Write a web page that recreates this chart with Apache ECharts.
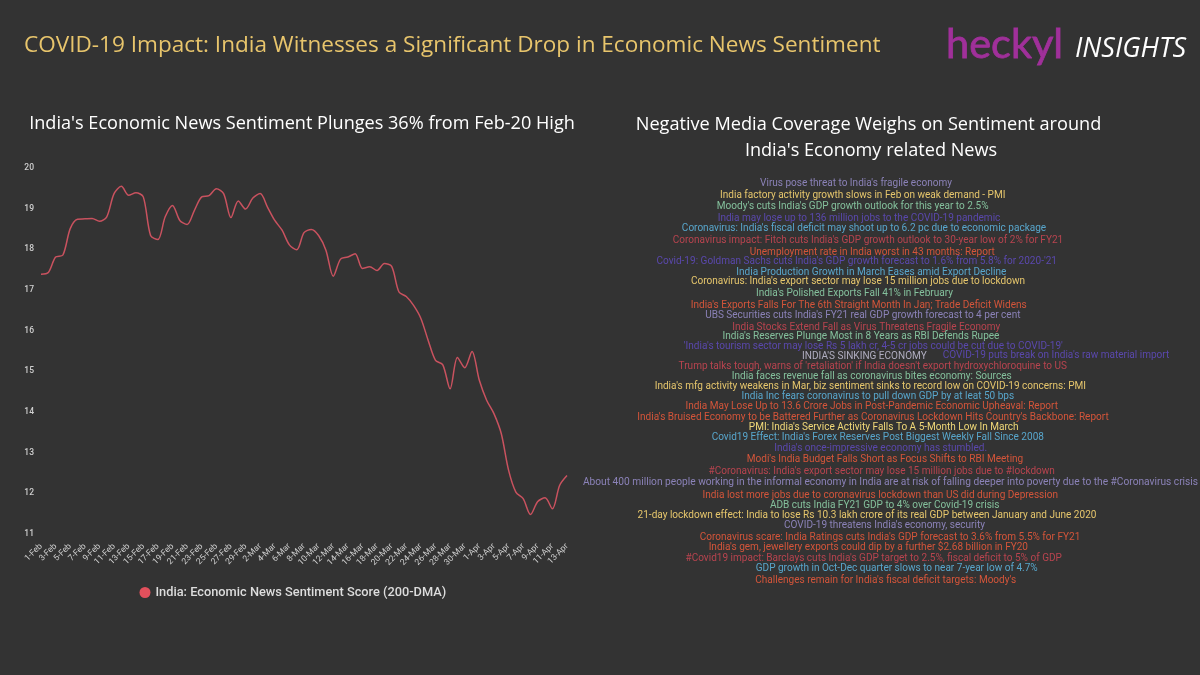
<!DOCTYPE html>
<html><head><meta charset="utf-8">
<style>html,body{margin:0;padding:0;background:#333333}#c{width:1200px;height:675px}</style>
<script src="https://cdn.jsdelivr.net/npm/echarts@6/dist/echarts.min.js"></script>
</head><body><div id="c"></div>
<script>
const dates = ['1-Feb','2-Feb','3-Feb','4-Feb','5-Feb','6-Feb','7-Feb','8-Feb','9-Feb','10-Feb','11-Feb','12-Feb','13-Feb','14-Feb','15-Feb','16-Feb','17-Feb','18-Feb','19-Feb','20-Feb','21-Feb','22-Feb','23-Feb','24-Feb','25-Feb','26-Feb','27-Feb','28-Feb','29-Feb','1-Mar','2-Mar','3-Mar','4-Mar','5-Mar','6-Mar','7-Mar','8-Mar','9-Mar','10-Mar','11-Mar','12-Mar','13-Mar','14-Mar','15-Mar','16-Mar','17-Mar','18-Mar','19-Mar','20-Mar','21-Mar','22-Mar','23-Mar','24-Mar','25-Mar','26-Mar','27-Mar','28-Mar','29-Mar','30-Mar','31-Mar','1-Apr','2-Apr','3-Apr','4-Apr','5-Apr','6-Apr','7-Apr','8-Apr','9-Apr','10-Apr','11-Apr','12-Apr','13-Apr'];
const sentiment = [17.39,17.43,17.81,17.86,18.51,18.74,18.75,18.76,18.69,18.80,19.37,19.55,19.33,19.39,19.29,18.34,18.24,18.80,19.08,18.71,18.61,18.96,19.29,19.32,19.49,19.37,18.78,19.19,18.99,19.26,19.37,19.04,18.71,18.47,18.11,17.99,18.41,18.49,18.34,17.98,17.34,17.76,17.81,17.89,17.53,17.57,17.48,17.65,17.58,16.95,16.84,16.62,16.30,15.76,15.27,15.16,14.57,15.34,15.09,15.49,14.78,14.29,13.96,13.47,12.57,12.03,11.87,11.48,11.80,11.89,11.62,12.20,12.44];
const headlines = ["Virus pose threat to India's fragile economy","India factory activity growth slows in Feb on weak demand - PMI","Moody's cuts India's GDP growth outlook for this year to 2.5%","India may lose up to 136 million jobs to the COVID-19 pandemic","Coronavirus: India's fiscal deficit may shoot up to 6.2 pc due to economic package","Coronavirus impact: Fitch cuts India's GDP growth outlook to 30-year low of 2% for FY21","Unemployment rate in India worst in 43 months: Report","Covid-19: Goldman Sachs cuts India's GDP growth forecast to 1.6% from 5.8% for 2020-'21","India Production Growth in March Eases amid Export Decline","Coronavirus: India's export sector may lose 15 million jobs due to lockdown","India's Polished Exports Fall 41% in February","India's Exports Falls For The 6th Straight Month In Jan; Trade Deficit Widens","UBS Securities cuts India's FY21 real GDP growth forecast to 4 per cent","India Stocks Extend Fall as Virus Threatens Fragile Economy","India's Reserves Plunge Most in 8 Years as RBI Defends Rupee","'India's tourism sector may lose Rs 5 lakh cr, 4-5 cr jobs could be cut due to COVID-19'","INDIA'S SINKING ECONOMY","COVID-19 puts break on India's raw material import","Trump talks tough, warns of 'retaliation' if India doesn't export hydroxychloroquine to US","India faces revenue fall as coronavirus bites economy: Sources","India's mfg activity weakens in Mar, biz sentiment sinks to record low on COVID-19 concerns: PMI","India Inc fears coronavirus to pull down GDP by at leat 50 bps","India May Lose Up to 13.6 Crore Jobs in Post-Pandemic Economic Upheaval: Report","India's Bruised Economy to be Battered Further as Coronavirus Lockdown Hits Country's Backbone: Report","PMI: India's Service Activity Falls To A 5-Month Low In March","Covid19 Effect: India's Forex Reserves Post Biggest Weekly Fall Since 2008","India's once-impressive economy has stumbled.","Modi's India Budget Falls Short as Focus Shifts to RBI Meeting","#Coronavirus: India's export sector may lose 15 million jobs due to #lockdown","About 400 million people working in the informal economy in India are at risk of falling deeper into poverty due to the #Coronavirus crisis","India lost more jobs due to coronavirus lockdown than US did during Depression","ADB cuts India FY21 GDP to 4% over Covid-19 crisis","21-day lockdown effect: India to lose Rs 10.3 lakh crore of its real GDP between January and June 2020","COVID-19 threatens India's economy, security","Coronavirus scare: India Ratings cuts India's GDP forecast to 3.6% from 5.5% for FY21","India's gem, jewellery exports could dip by a further $2.68 billion in FY20","#Covid19 impact: Barclays cuts India's GDP target to 2.5%, fiscal deficit to 5% of GDP","GDP growth in Oct-Dec quarter slows to near 7-year low of 4.7%","Challenges remain for India's fiscal deficit targets: Moody's"];
const headlineX = [856,862.7,852.7,859,864,868,872.3,856.7,871.3,858,854.4,858.7,862.8,866.3,861,873.3,864.4,1056,872.8,871.7,870.3,877.8,871.7,873,883.7,877.8,880.7,885,881.7,890.5,880.3,884.7,867,884.5,890,868.3,873.7,896.7,885.7];
const headlineY = [183,195,206.7,218,228.7,240.7,252,261.3,272,281.3,293.7,305,315.7,327,336.7,346.3,356.7,355.3,366,376.3,386.3,396.3,406.3,417.7,427.7,437.3,448.3,459.3,471.3,482.7,495,505.3,515.3,525.7,537,547,558.3,568.3,580.7];
const palette = {lav:'#8b82b8',yel:'#e6c66c',grn:'#84c09c',ind:'#5a48ad',blu:'#58a6cc',cri:'#b8444f',org:'#d4553a',gry:'#b0aec0',lyl:'#f0d878'};
const headlineColor = ['lav','yel','grn','ind','blu','cri','org','ind','blu','yel','grn','org','lav','cri','grn','ind','gry','ind','cri','grn','yel','blu','org','org','lyl','blu','ind','org','cri','lav','org','grn','yel','lav','org','org','cri','blu','org'];

const font = 'Roboto';
const texts = headlines.map((h,i)=>({type:'text',x:headlineX[i],y:headlineY[i],silent:true,
  style:{text:h,fill:palette[headlineColor[i]],font:'400 '+(i===29?10.2:10.04)+'px Roboto',textAlign:'center',textVerticalAlign:'middle'}}));
const head = (t,x,y,fill,f,extra)=>({type:'text',x,y,silent:true,style:Object.assign({text:t,fill,font:f,textAlign:'left',textVerticalAlign:'middle'},extra||{})});
const cen = (t,x,y,fill,f)=>({type:'text',x,y,silent:true,style:{text:t,fill,font:f,textAlign:'center',textVerticalAlign:'middle'}});

const chart = echarts.init(document.getElementById('c'),null,{renderer:'canvas'});
chart.setOption({
  backgroundColor:'#333333',animation:false,
  grid:{left:41,right:633,top:168,bottom:141,containLabel:false},
  legend:{left:134.5,top:581,icon:'circle',itemWidth:11,itemHeight:11,itemGap:6,
    textStyle:{color:'#dddddd',fontFamily:font,fontSize:12.8,fontWeight:500},
    data:[{name:'India: Economic News Sentiment Score (200-DMA)',itemStyle:{color:'#e2505c'}}]},
  xAxis:{type:'category',data:dates,boundaryGap:false,
    axisLine:{show:false},axisTick:{show:false},splitLine:{show:false},
    axisLabel:{interval:1,rotate:45,color:'#d0d0d0',fontFamily:font,fontSize:8.5,margin:11}},
  yAxis:{type:'value',min:11,max:20,interval:1,
    axisLine:{show:false},axisTick:{show:false},splitLine:{show:false},
    axisLabel:{color:'#d0d0d0',fontFamily:font,fontSize:8.5,fontWeight:500,margin:7,padding:[4,0,0,0]}},
  series:[{name:'India: Economic News Sentiment Score (200-DMA)',type:'line',data:sentiment,smooth:0.3,symbol:'none',
    lineStyle:{color:'#c9525f',width:1.5}}],
  graphic:{elements:[
    head('COVID-19 Impact: India Witnesses a Significant Drop in Economic News Sentiment',24,46,'#e8c56c','400 22.55px "Open Sans"'),
    head('heckyl',946,45,'#a0309a','400 41.5px Lato',{stroke:'#a0309a',lineWidth:0.8}),
    head('INSIGHTS',1075,49,'#ffffff','italic 400 27px "Open Sans"'),
    cen("India's Economic News Sentiment Plunges 36% from Feb-20 High",302,124,'#ffffff','400 18.1px "Open Sans"'),
    cen('Negative Media Coverage Weighs on Sentiment around',868.5,125,'#ffffff','400 18.15px "Open Sans"'),
    cen("India's Economy related News",871,151,'#ffffff','400 18.1px "Open Sans"'),
    ...texts
  ]}
});
</script></body></html>
